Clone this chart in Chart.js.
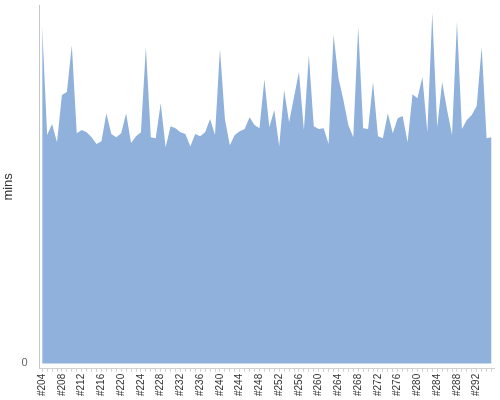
<!DOCTYPE html>
<html>
<head>
<meta charset="utf-8">
<script src="https://cdn.jsdelivr.net/npm/chart.js@4"></script>
<style>
  html, body { margin: 0; padding: 0; background: #fff; }
  #wrap { width: 500px; height: 400px; }
</style>
</head>
<body>
<div id="wrap"><canvas id="chart"></canvas></div>
<script>
// builds #204 .. #295
var firstBuild = 204;
var buildLabels = [];
for (var b = firstBuild; b <= 295; b++) buildLabels.push('#' + b);

// minutes per build
var buildMins = [
  93.9, 63.7, 66.8, 61.7, 74.9, 75.7, 88.8, 64.2, 65.1, 64.5,
  63.1, 61.2, 62.0, 69.8, 64.0, 63.1, 64.2, 69.8, 61.5, 63.4,
  64.5, 88.3, 63.1, 62.8, 72.6, 60.3, 66.2, 65.6, 64.5, 64.0,
  60.6, 64.0, 63.4, 64.5, 68.2, 63.7, 87.7, 68.2, 60.9, 63.7,
  64.8, 65.4, 68.7, 66.5, 65.6, 79.3, 65.9, 70.7, 60.6, 76.3,
  67.3, 74.3, 81.3, 65.1, 86.0, 66.2, 65.4, 65.6, 61.2, 91.6,
  79.6, 73.5, 66.5, 63.1, 93.9, 65.6, 65.4, 78.5, 63.4, 62.8,
  69.8, 64.2, 68.4, 69.0, 61.7, 75.1, 74.0, 79.9, 64.5, 97.8,
  65.9, 78.5, 70.7, 63.7, 95.3, 65.4, 67.9, 69.3, 71.8, 88.3,
  62.8, 63.1
];

var yTicks = [0];

Chart.defaults.font.family = '"Liberation Sans", Arial, sans-serif';

new Chart(document.getElementById('chart'), {
  type: 'line',
  data: {
    labels: buildLabels,
    datasets: [{
      label: 'mins',
      data: buildMins,
      fill: 'origin',
      backgroundColor: 'rgb(143,177,219)',
      borderColor: 'rgb(143,177,219)',
      borderWidth: 0,
      pointRadius: 0,
      tension: 0
    }]
  },
  options: {
    responsive: true,
    maintainAspectRatio: false,
    animation: false,
    layout: { padding: { top: 5, right: 6, left: 1, bottom: 2 } },
    plugins: { legend: { display: false }, tooltip: { enabled: false } },
    scales: {
      x: {
        offset: true,
        afterFit: function (s) { s.paddingRight = 0; },
        border: { display: true, color: '#d0d0d0' },
        grid: { drawOnChartArea: false, drawTicks: true, tickLength: 3, color: '#d0d0d0' },
        ticks: {
          autoSkip: false,
          minRotation: 90,
          maxRotation: 90,
          padding: 2,
          color: '#333',
          font: { size: 10 },
          callback: function (v, i) { return i % 4 === 0 ? buildLabels[i] : ''; }
        }
      },
      y: {
        min: -1.5,
        max: 100,
        afterBuildTicks: function (axis) { axis.ticks = yTicks.map(function (v) { return { value: v }; }); },
        afterFit: function (s) { s.paddingTop = 0; },
        border: { display: true, color: '#c8c8c8' },
        grid: { display: false },
        ticks: { color: '#666', font: { size: 11 }, padding: 4 },
        title: { display: true, text: 'mins', color: '#333', font: { size: 13 }, padding: { top: 0, bottom: 1 } }
      }
    }
  }
});
</script>
</body>
</html>
